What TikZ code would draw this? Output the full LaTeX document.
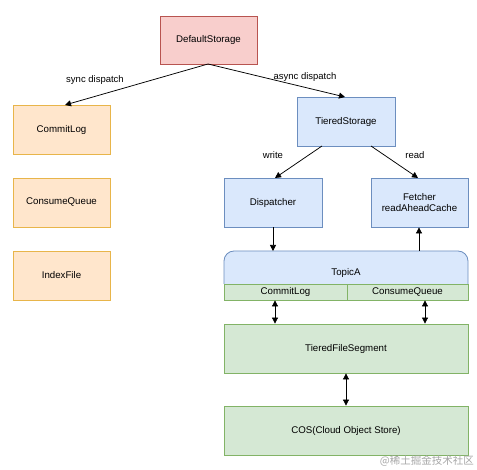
\documentclass[tikz,border=0pt]{standalone}
\usepackage{fontspec}
\setmainfont{Liberation Sans}
\newfontfamily\cjk{Noto Sans CJK SC}
\usetikzlibrary{arrows.meta}
\definecolor{redfill}{HTML}{F8CECC}
\definecolor{redline}{HTML}{B85450}
\definecolor{orfill}{HTML}{FFE6CC}
\definecolor{orline}{HTML}{E8B54A}
\definecolor{bluefill}{HTML}{DAE8FC}
\definecolor{blueline}{HTML}{6C8EBF}
\definecolor{grfill}{HTML}{D5E8D4}
\definecolor{grline}{HTML}{82B366}
\tikzset{
  box/.style={draw, line width=0.8pt, inner sep=0pt, align=center, font=\fontsize{9.7}{11.5}\selectfont},
  redbox/.style={box, fill=redfill, draw=redline},
  orbox/.style={box, fill=orfill, draw=orline},
  bluebox/.style={box, fill=bluefill, draw=blueline},
  grbox/.style={box, fill=grfill, draw=grline},
  conn/.style={draw=black, line width=0.75pt, -{Triangle[length=6pt,width=6pt]}},
  dconn/.style={draw=black, line width=0.75pt, {Triangle[length=6pt,width=6pt]}-{Triangle[length=6pt,width=6pt]}},
  lbl/.style={font=\fontsize{9.5}{11}\selectfont, inner sep=1pt}
}
\begin{document}
\begin{tikzpicture}[x=1pt,y=-1pt]
\useasboundingbox (0,0) rectangle (477,470);
\node[redbox, minimum width=97pt, minimum height=48pt] (ds) at (208.5,40) {DefaultStorage};
\node[orbox, minimum width=97pt, minimum height=49pt] (cl) at (61.5,129.5) {CommitLog};
\node[orbox, minimum width=97pt, minimum height=49pt] (cq) at (61.5,202.5) {ConsumeQueue};
\node[orbox, minimum width=97pt, minimum height=49pt] (ix) at (61.5,275.5) {IndexFile};
\node[bluebox, minimum width=98pt, minimum height=49pt] (ts) at (346,121.5) {TieredStorage};
\node[bluebox, minimum width=98pt, minimum height=49pt] (dp) at (273,202.5) {Dispatcher};
\node[bluebox, minimum width=97pt, minimum height=49pt] (ft) at (419.5,202.5) {Fetcher\\readAheadCache};
% TopicA container (rounded top)
\draw[blueline, fill=bluefill, line width=0.8pt, rounded corners=10pt] (224,284) |- (346,251) -| (468,284);
\node[font=\fontsize{9.7}{11.5}\selectfont] (ta) at (346,273) {TopicA};
\coordinate (taL) at (273,251);
\coordinate (taR) at (419,251);
\node[grbox, minimum width=123pt, minimum height=16pt] (tcl) at (285.5,292) {CommitLog};
\node[grbox, minimum width=121pt, minimum height=16pt] (tcq) at (407.5,292) {ConsumeQueue};
\node[grbox, minimum width=244pt, minimum height=49pt] (tfs) at (346,348.5) {TieredFileSegment};
\node[grbox, minimum width=244pt, minimum height=49pt] (cos) at (346,430.5) {COS(Cloud Object Store)};
% connectors
\coordinate (dsb) at (208,64);
\draw[conn] (dsb) -- (65,105);
\draw[conn] (dsb) -- (345,97);
\node[lbl] (l1) at (95,80) {sync dispatch};
\node[lbl] (l2) at (305,77) {async dispatch};
\draw[conn] (322,146) -- (275,178);
\draw[conn] (371,146) -- (418,178);
\node[lbl] (l3) at (273,155) {write};
\node[lbl] (l4) at (415,155) {read};
\draw[conn] (dp.south -| taL) -- (taL);
\draw[conn] (taR) -- (ft.south -| taR);
\draw[dconn] (tcl.south -| 275,0) -- (tfs.north -| 275,0);
\draw[dconn] (tcq.south -| 425,0) -- (tfs.north -| 425,0);
\draw[dconn] (tfs.south) -- (cos.north);
\node[font=\cjk\fontsize{10.5}{12}\selectfont, text=black!35, anchor=east, inner sep=0pt] (wm) at (474,460.5) {@稀土掘金技术社区};
\end{tikzpicture}
\end{document}
